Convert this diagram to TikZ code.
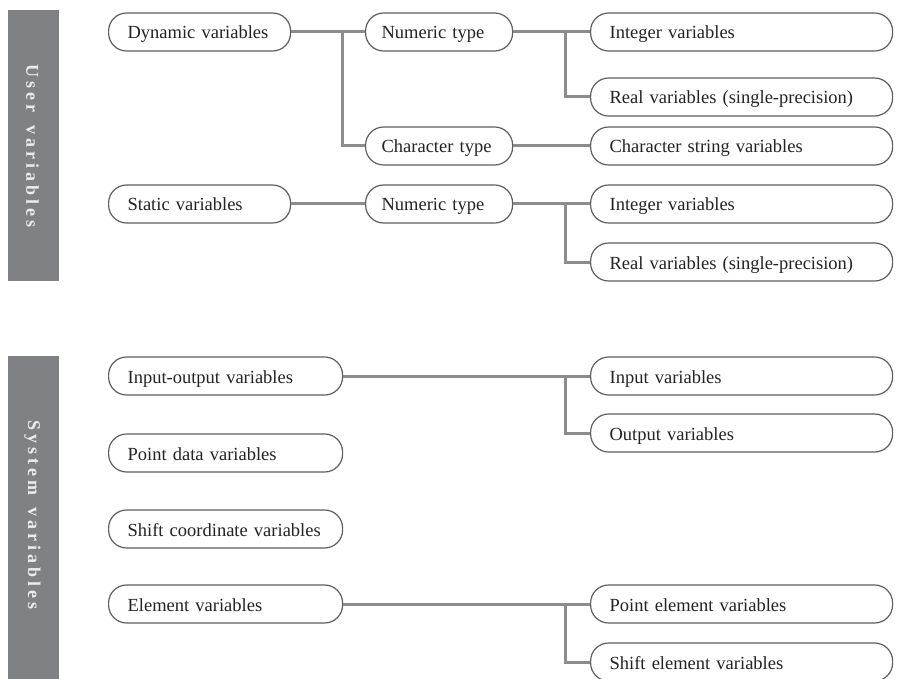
\documentclass[tikz,border=0pt]{standalone}
\usepackage{fontspec}
\setmainfont{Liberation Serif}
\definecolor{barfill}{RGB}{128,129,133}
\definecolor{bartext}{RGB}{236,236,236}
\definecolor{boxline}{RGB}{95,95,95}
\definecolor{linkline}{RGB}{140,140,140}
\definecolor{boxtext}{RGB}{35,35,35}
% letter spacing used in the side labels
\newcommand\lsk{\kern4pt}
\begin{document}
\begin{tikzpicture}[x=1pt,y=-1pt,
  item/.style={draw=boxline, line width=1.2pt, rounded corners=18pt, fill=white,
    text=boxtext, anchor=west, minimum height=38pt, inner xsep=19pt, inner ysep=0pt,
    text height=16pt, text depth=2pt,
    align=left, font=\fontsize{18.5}{22}\selectfont},
  narrowbox/.style={item, text width=144pt},
  widebox/.style={item, text width=196pt},
  midbox/.style={item, inner xsep=16pt, text width=115pt},
  rightbox/.style={item, text width=264pt},
  link/.style={draw=linkline, line width=3pt},
  sidebar/.style={fill=barfill, draw=none},
  sidelabel/.style={rotate=-90, text=bartext, font=\fontsize{18}{20}\selectfont\bfseries}
]
\useasboundingbox (0,0) rectangle (899,679);

% side bars
\path[sidebar] (8,10) rectangle (59,281);
\path[sidebar] (8,356) rectangle (59,679);
\node[sidelabel] (userlbl) at (32.5,146)
  {U\lsk s\lsk e\lsk r\lsk\hspace{4.5pt}\lsk v\lsk a\lsk r\lsk i\lsk a\lsk b\lsk l\lsk e\lsk s};
\node[sidelabel] (syslbl) at (32.5,515)
  {S\lsk y\lsk s\lsk t\lsk e\lsk m\lsk\hspace{4.5pt}\lsk v\lsk a\lsk r\lsk i\lsk a\lsk b\lsk l\lsk e\lsk s};

% user variables
\node[narrowbox] (dyn) at (108,32) {Dynamic variables};
\node[midbox] (num1) at (365,32) {Numeric type};
\node[midbox] (chr) at (365,146) {Character type};
\node[rightbox] (int1) at (590,32) {Integer variables};
\node[rightbox] (real1) at (590,97) {Real variables (single-precision)};
\node[rightbox] (str) at (590,146) {Character string variables};

\node[narrowbox] (sta) at (108,204) {Static variables};
\node[midbox] (num2) at (365,204) {Numeric type};
\node[rightbox] (int2) at (590,204) {Integer variables};
\node[rightbox] (real2) at (590,262) {Real variables (single-precision)};

% system variables
\node[widebox] (io) at (108,376) {Input-output variables};
\node[widebox] (pdv) at (108,453) {Point data variables};
\node[widebox] (scv) at (108,529) {Shift coordinate variables};
\node[widebox] (ele) at (108,604) {Element variables};
\node[rightbox] (inp) at (590,376) {Input variables};
\node[rightbox] (out) at (590,433) {Output variables};
\node[rightbox] (pel) at (590,604) {Point element variables};
\node[rightbox] (sel) at (590,662) {Shift element variables};

% connectors
\draw[link] (dyn.east) -- (num1.west);
\draw[link] ([xshift=-23pt]num1.west) |- (chr.west);
\draw[link] (num1.east) -- (int1.west);
\draw[link] ([xshift=-25pt]int1.west) |- (real1.west);
\draw[link] (chr.east) -- (str.west);
\draw[link] (sta.east) -- (num2.west);
\draw[link] (num2.east) -- (int2.west);
\draw[link] ([xshift=-25pt]int2.west) |- (real2.west);
\draw[link] (io.east) -- (inp.west);
\draw[link] ([xshift=-25pt]inp.west) |- (out.west);
\draw[link] (ele.east) -- (pel.west);
\draw[link] ([xshift=-25pt]pel.west) |- (sel.west);
\end{tikzpicture}
\end{document}
